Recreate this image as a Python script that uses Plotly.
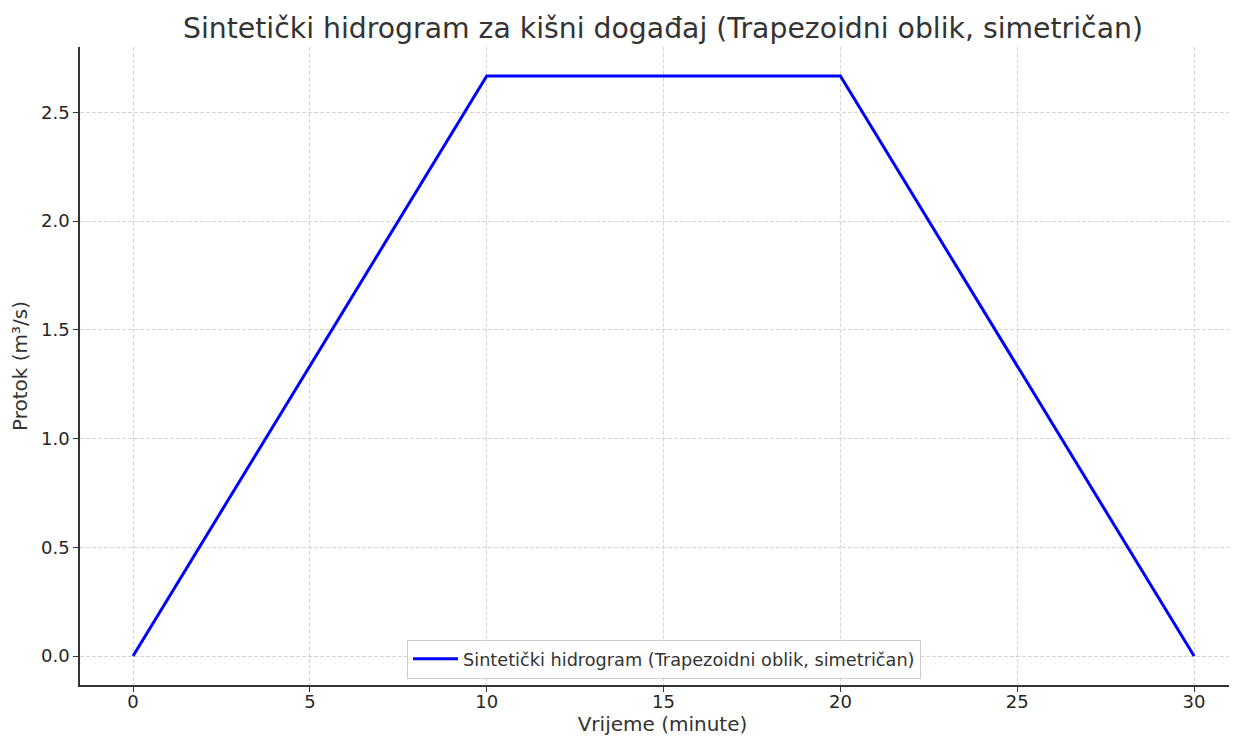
import plotly.graph_objects as go

vrijeme = [0, 10, 20, 30]
protok = [0.0, 2.6667, 2.6667, 0.0]
x_ticks = [0, 5, 10, 15, 20, 25, 30]
y_ticks = [0.0, 0.5, 1.0, 1.5, 2.0, 2.5]

fig = go.Figure()
fig.add_trace(go.Scatter(
    x=vrijeme, y=protok, mode="lines",
    name="Sintetički hidrogram (Trapezoidni oblik, simetričan)",
    line=dict(color="#0000ff", width=3),
))

font = "DejaVu Sans, sans-serif"
W, H = 1237, 740
L, T, B, R = 72, 39, 63, 0
fig.update_layout(
    width=W, height=H,
    margin=dict(l=L, r=R, t=T, b=B, autoexpand=False),
    paper_bgcolor="white", plot_bgcolor="white",
    font=dict(family=font, color="#333333", size=18),
    title=dict(text="Sintetički hidrogram za kišni događaj (Trapezoidni oblik, simetričan)",
               x=655/W, xanchor="center", y=1-20/H, yanchor="middle",
               font=dict(size=28.3, color="#333333")),
    showlegend=True,
    legend=dict(x=(656-L)/(W-L-R), xanchor="center",
                y=0.01, yanchor="bottom", itemwidth=45,
                bgcolor="rgba(255,255,255,0.8)", bordercolor="#cccccc", borderwidth=1,
                font=dict(size=17.7, color="#333333")),
)
fig.update_xaxes(
    range=[-1.5, 31.44], tickvals=x_ticks, ticktext=[str(v) for v in x_ticks],
    showline=True, linecolor="#333333", linewidth=1.5,
    ticks="outside", ticklen=5, tickcolor="#333333", tickwidth=1.2,
    showgrid=True, gridcolor="#d4d4d4", griddash="4px,2px", gridwidth=1,
    zeroline=False, automargin=False,
    tickfont=dict(size=18, color="#262626"), ticklabelstandoff=-5,
    title=dict(text="Vrijeme (minute)", font=dict(size=20), standoff=4),
)
fig.update_yaxes(
    range=[-0.1333, 2.8], tickvals=y_ticks, ticktext=[f"{v:.1f}" for v in y_ticks],
    showline=True, linecolor="#333333", linewidth=1.5,
    ticks="outside", ticklen=5, tickcolor="#333333", tickwidth=1.2,
    showgrid=True, gridcolor="#d4d4d4", griddash="4px,2px", gridwidth=1,
    zeroline=False, automargin=False,
    tickfont=dict(size=18, color="#262626"),
    title=dict(text="Protok (m³/s)", font=dict(size=20), standoff=8),
)
fig.write_html("out.html")
